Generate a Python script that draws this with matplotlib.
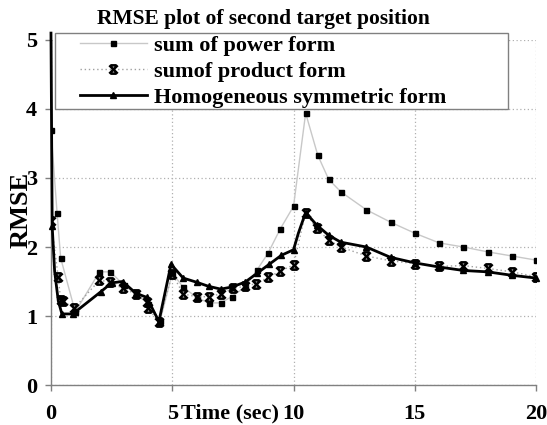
import matplotlib
matplotlib.use("Agg")
import matplotlib.pyplot as plt
from matplotlib.path import Path
from matplotlib.patches import Rectangle

# ---- data ----
t_power = [0, 0.25, 0.4, 1.0, 2.0, 2.45, 3.0, 3.5, 4.0, 4.5, 5.0, 5.45, 6.0, 6.5, 7.0, 7.45,
           8.0, 8.5, 8.95, 9.45, 10.0, 10.5, 11.0, 11.45, 11.95, 13, 14, 15, 16, 17, 18, 19, 20]
rmse_power = [3.7, 2.5, 1.84, 1.06, 1.64, 1.64, 1.45, 1.32, 1.18, 0.93, 1.62, 1.42, 1.27, 1.19, 1.19, 1.28,
              1.42, 1.67, 1.91, 2.26, 2.59, 3.94, 3.33, 2.98, 2.8, 2.54, 2.36, 2.2, 2.06, 2.0, 1.93, 1.87, 1.81]

t_product = [0, 0.3, 0.4, 0.5, 0.95, 2.0, 2.45, 2.95, 3.5, 3.95, 4.0, 4.45, 5.0, 5.45, 6.0, 6.5, 7.0,
             7.5, 8.0, 8.45, 8.95, 9.45, 10.0, 10.5, 10.95, 11.45, 11.95, 13, 14, 15, 16, 17, 18, 19, 20]
rmse_product = [2.38, 1.56, 1.23, 1.22, 1.11, 1.52, 1.49, 1.40, 1.32, 1.20, 1.12, 0.91, 1.61, 1.32, 1.28, 1.28, 1.32,
                1.40, 1.43, 1.47, 1.56, 1.65, 1.74, 2.50, 2.27, 2.10, 2.00, 1.87, 1.80, 1.76, 1.72, 1.73, 1.69, 1.64, 1.57]

t_homog = [0, 0.05, 0.15, 0.3, 0.45, 0.9, 2.05, 2.5, 2.95, 3.5, 3.95, 4.45, 4.95, 5.45, 6.0, 6.5, 7.0,
           7.45, 8.0, 8.5, 9.0, 9.5, 10.0, 10.2, 10.5, 10.95, 11.45, 11.95, 13, 14, 15, 16, 17, 18, 19, 20]
rmse_homog = [5.1, 2.3, 1.65, 1.22, 1.03, 1.03, 1.35, 1.48, 1.5, 1.33, 1.27, 0.92, 1.75, 1.55, 1.49, 1.43, 1.39,
              1.42, 1.49, 1.62, 1.75, 1.88, 1.96, 2.2, 2.5, 2.32, 2.17, 2.07, 2.0, 1.85, 1.77, 1.71, 1.66, 1.64, 1.59, 1.55]

labels = ["sum of power form", "sumof product form", "Homogeneous symmetric form"]
x_ticks = [0, 5, 10, 15, 20]
y_ticks = [0, 1, 2, 3, 4, 5]

# ---- style ----
serif = ["Liberation Serif", "DejaVu Serif"]
plt.rcParams['font.family'] = serif
plt.rcParams['font.weight'] = 'bold'

# X marker with bars top and bottom
xbar = Path([(-1, -1), (1, 1), (-1, 1), (1, -1), (-0.7, 1), (0.7, 1), (-0.7, -1), (0.7, -1)],
            [Path.MOVETO, Path.LINETO, Path.MOVETO, Path.LINETO,
             Path.MOVETO, Path.LINETO, Path.MOVETO, Path.LINETO])

fig = plt.figure(figsize=(5.47, 4.25), dpi=100)
ax = fig.add_axes([0.0932, 0.0941, 0.8868, 0.8118])

ax.plot(t_power, rmse_power, color="#c8c8c8", lw=1.0, marker="s", ms=3.6,
        mfc="black", mec="black", label=labels[0], zorder=3)
ax.plot(t_product, rmse_product, color="#a0a0a0", lw=1.0, ls=(0, (1, 2)), marker=xbar, ms=6,
        mfc="none", mec="black", mew=1.8, label=labels[1], zorder=4)
mark_h = [i for i, t in enumerate(t_homog) if t not in (0, 0.15, 0.3, 10.2)]
ax.plot(t_homog, rmse_homog, color="black", lw=2.0, marker="^", ms=4.5, markevery=mark_h,
        mfc="black", mec="black", label=labels[2], zorder=5, clip_on=False)

ax.set_xlim(0, 20)
ax.set_ylim(0, 5)
ax.set_xticks(x_ticks)
ax.set_yticks(y_ticks)
ax.set_xticklabels([str(v) for v in x_ticks])
ax.set_yticklabels([str(v) for v in y_ticks])

ax.grid(True, color="#b0b0b0", ls=(0, (1, 2)), lw=0.9)
ax.set_axisbelow(True)
for s in ["top", "right"]:
    ax.spines[s].set_visible(False)
for s in ["left", "bottom"]:
    ax.spines[s].set_color("#808080")
    ax.spines[s].set_linewidth(1.0)

ax.tick_params(axis="both", colors="#808080", length=4, width=1.0, labelcolor="black")
ax.tick_params(axis="x", pad=10, labelsize=16)
ax.tick_params(axis="y", pad=6, labelsize=16)
for lab in ax.get_xticklabels() + ax.get_yticklabels():
    lab.set_fontweight("bold")

ax.set_xlabel("Time (sec)", fontsize=16, fontweight="bold")
ax.xaxis.set_label_coords(0.369, -0.055)
ax.xaxis.label.set_va("top")
ax.set_ylabel("RMSE", fontsize=19, fontweight="bold")
ax.yaxis.set_label_coords(-0.037, 0.507)

fig.text(263 / 547, 1 - 19 / 425, "RMSE plot of second target position", ha="center", va="center",
         fontsize=15.5, fontweight="bold")

# legend frame
frame = Rectangle((0.008, 0.80), 0.934, 0.2203, transform=ax.transAxes, facecolor="white",
                  edgecolor="#808080", lw=1.0, clip_on=False, zorder=9)
ax.add_patch(frame)
leg = ax.legend(loc="upper left", bbox_to_anchor=(0.0598, 1.0145),
                borderaxespad=0, frameon=False, borderpad=0,
                prop={"family": serif, "weight": "bold", "size": 16},
                handlelength=3.0, handletextpad=0.32, labelspacing=0.25)
leg.set_zorder(10)

fig.savefig("out.png", dpi=100, facecolor="white")
